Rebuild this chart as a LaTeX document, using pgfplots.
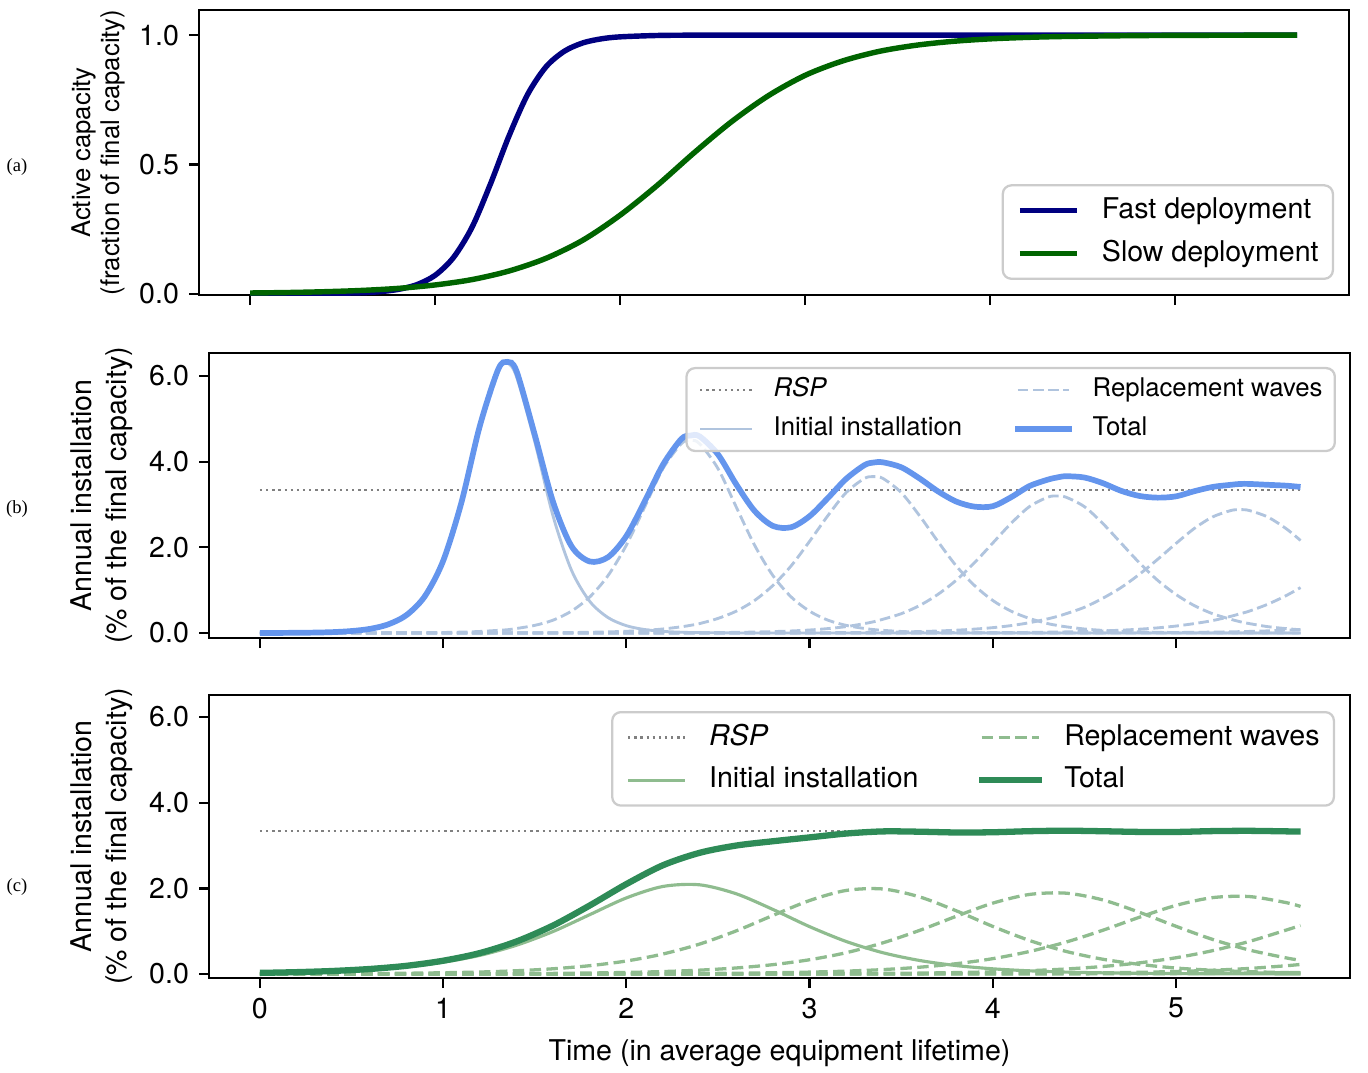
\documentclass[border=0pt]{standalone}
\usepackage{pgfplots}
\pgfplotsset{compat=1.18}
\usepackage{pgfplotstable}
\usepackage{fontspec}
\setmainfont{TeX Gyre Heros}
\newfontfamily\tagfont{Liberation Serif}

\definecolor{fastc}{HTML}{000080}
\definecolor{slowc}{HTML}{006400}
\definecolor{cfblue}{HTML}{6495ED}
\definecolor{lsblue}{HTML}{B0C4DE}
\definecolor{sgreen}{HTML}{2E8B57}
\definecolor{dsgreen}{HTML}{8FBC8F}
\definecolor{lgray}{HTML}{CCCCCC}
\definecolor{rspgray}{HTML}{808080}

\pgfplotstableread{
t I W1 W2 W3 W4 W5 W6 T
0.0 0.001 0 0 0 0 0 0 0.001
0.1 0.002 0 0 0 0 0 0 0.002
0.2 0.005 0 0 0 0 0 0 0.005
0.3 0.010 0 0 0 0 0 0 0.010
0.4 0.021 0 0 0 0 0 0 0.021
0.5 0.045 0.001 0 0 0 0 0 0.046
0.6 0.095 0.001 0 0 0 0 0 0.096
0.7 0.199 0.002 0 0 0 0 0 0.201
0.8 0.414 0.004 0 0 0 0 0 0.418
0.9 0.850 0.007 0 0 0 0 0 0.857
1.0 1.670 0.012 0.001 0 0 0 0 1.683
1.1 3.040 0.021 0.001 0 0 0 0 3.050
1.2 4.820 0.036 0.001 0 0 0 0 4.830
1.3 6.160 0.062 0.002 0 0 0 0 6.150
1.35 6.300 0.076 0.002 0 0 0 0 6.330
1.4 5.990 0.105 0.003 0 0 0 0 6.120
1.5 4.470 0.178 0.004 0 0 0 0 4.630
1.6 2.730 0.300 0.006 0.001 0 0 0 3.060
1.7 1.470 0.510 0.011 0.001 0 0 0 2.030
1.8 0.740 0.840 0.017 0.001 0 0 0 1.670
1.9 0.360 1.340 0.026 0.001 0 0 0 1.770
2.0 0.171 2.050 0.040 0.002 0 0 0 2.263
2.1 0.081 2.940 0.061 0.002 0 0 0 3.070
2.2 0.038 3.840 0.094 0.003 0.001 0 0 3.930
2.3 0.018 4.420 0.145 0.004 0.001 0 0 4.530
2.35 0.012 4.500 0.179 0.006 0.001 0 0 4.610
2.4 0.008 4.420 0.220 0.006 0.001 0 0 4.590
2.5 0.004 3.840 0.340 0.010 0.001 0 0 4.170
2.6 0.002 2.940 0.510 0.015 0.002 0 0 3.469
2.7 0.001 2.050 0.760 0.022 0.002 0 0 2.850
2.8 0 1.340 1.110 0.033 0.003 0 0 2.500
2.9 0 0.840 1.570 0.048 0.004 0 0 2.470
3.0 0 0.510 2.140 0.070 0.005 0.001 0 2.726
3.1 0 0.300 2.740 0.103 0.007 0.001 0 3.151
3.2 0 0.178 3.280 0.149 0.010 0.001 0 3.600
3.3 0 0.105 3.610 0.220 0.013 0.001 0 3.920
3.35 0 0.080 3.650 0.263 0.015 0.002 0 3.980
3.4 0 0.062 3.610 0.320 0.018 0.002 0 3.985
3.5 0 0.036 3.280 0.450 0.024 0.002 0 3.870
3.6 0 0.021 2.740 0.640 0.034 0.003 0 3.610
3.7 0 0.012 2.140 0.900 0.047 0.004 0 3.310
3.8 0 0.008 1.570 1.230 0.065 0.005 0.001 3.070
3.9 0 0.006 1.110 1.640 0.091 0.006 0.001 2.950
4.0 0 0.004 0.760 2.100 0.125 0.008 0.001 2.960
4.1 0 0.003 0.510 2.560 0.173 0.011 0.001 3.170
4.2 0 0.002 0.340 2.950 0.240 0.014 0.001 3.430
4.3 0 0.001 0.220 3.170 0.330 0.019 0.002 3.580
4.35 0 0.001 0.179 3.200 0.385 0.022 0.002 3.630
4.4 0 0.001 0.145 3.170 0.450 0.026 0.002 3.660
4.5 0 0.001 0.094 2.950 0.600 0.036 0.003 3.630
4.6 0 0 0.061 2.560 0.810 0.048 0.004 3.500
4.7 0 0 0.040 2.100 1.060 0.066 0.005 3.320
4.8 0 0 0.026 1.640 1.370 0.089 0.007 3.200
4.9 0 0 0.017 1.230 1.720 0.120 0.009 3.160
5.0 0 0 0.011 0.900 2.090 0.162 0.012 3.190
5.1 0 0 0.007 0.640 2.440 0.220 0.016 3.310
5.2 0 0 0.004 0.450 2.710 0.290 0.021 3.410
5.3 0 0 0.003 0.320 2.860 0.390 0.028 3.460
5.35 0 0 0.003 0.263 2.880 0.450 0.032 3.480
5.4 0 0 0.002 0.220 2.860 0.510 0.037 3.480
5.5 0 0 0.001 0.149 2.710 0.670 0.050 3.460
5.6 0 0 0.001 0.103 2.440 0.870 0.065 3.440
5.68 0 0 0.001 0.075 2.160 1.060 0.080 3.410
}\tabB

\pgfplotstableread{
t I W1 W2 W3 W4 W5 W6 T
0.0 0.024 0.003 0.000 0 0 0 0 0.027
0.2 0.039 0.004 0.001 0 0 0 0 0.044
0.4 0.064 0.007 0.001 0 0 0 0 0.072
0.6 0.105 0.011 0.002 0 0 0 0 0.118
0.8 0.171 0.019 0.002 0 0 0 0 0.192
1.0 0.276 0.030 0.004 0.001 0 0 0 0.311
1.2 0.435 0.047 0.006 0.001 0 0 0 0.489
1.4 0.672 0.077 0.010 0.001 0 0 0 0.760
1.6 0.993 0.123 0.015 0.002 0 0 0 1.133
1.8 1.386 0.195 0.024 0.003 0 0 0 1.600
2.0 1.777 0.304 0.037 0.005 0.001 0 0 2.100
2.2 2.045 0.468 0.058 0.008 0.002 0 0 2.540
2.4 2.083 0.700 0.091 0.012 0.002 0 0 2.830
2.6 1.873 1.008 0.142 0.019 0.003 0 0 3.000
2.8 1.508 1.368 0.219 0.029 0.004 0.001 0 3.100
3.0 1.107 1.716 0.334 0.045 0.006 0.001 0 3.190
3.2 0.760 1.952 0.498 0.068 0.010 0.002 0 3.280
3.4 0.498 1.986 0.728 0.104 0.015 0.002 0.001 3.330
3.6 0.317 1.802 1.018 0.159 0.022 0.004 0.001 3.323
3.8 0.198 1.478 1.347 0.241 0.034 0.006 0.001 3.305
4.0 0.122 1.112 1.655 0.359 0.052 0.008 0.002 3.310
4.2 0.075 0.784 1.858 0.526 0.078 0.012 0.002 3.335
4.4 0.045 0.528 1.888 0.746 0.118 0.018 0.003 3.346
4.6 0.028 0.346 1.731 1.021 0.176 0.027 0.005 3.334
4.8 0.017 0.226 1.442 1.325 0.261 0.040 0.007 3.318
5.0 0.010 0.140 1.115 1.602 0.380 0.060 0.010 3.317
5.2 0.006 0.089 0.808 1.784 0.546 0.089 0.015 3.337
5.4 0.004 0.055 0.561 1.809 0.761 0.131 0.022 3.343
5.6 0.002 0.034 0.378 1.669 1.024 0.193 0.031 3.331
5.68 0.002 0.029 0.321 1.578 1.134 0.224 0.038 3.326
}\tabC

\pgfplotsset{
  mplaxis/.style={
    scale only axis,
    axis line style={line width=0.8pt},
    every tick/.style={black, line width=0.8pt},
    tick align=outside,
    major tick length=3.5pt,
    tick pos=left,
    ticklabel style={font=\fontsize{10}{12}\selectfont},
    /pgf/number format/assume math mode=true,
    xtick={0,1,2,3,4,5},
    legend cell align=left,
  },
  legA/.style={
    legend style={font=\fontsize{10}{12}\selectfont, draw=lgray, line width=0.8pt,
      rounded corners=3pt, fill=white, fill opacity=0.8, draw opacity=1, text opacity=1,
      inner xsep=5pt, inner ysep=4pt, row sep=5.3pt,
      nodes={inner sep=0pt, text height=7.5pt, text depth=2.2pt},
      /tikz/every odd column/.append style={column sep=7.8pt},
      /tikz/every even column/.append style={column sep=21pt}},
    legend image code/.code={\draw[#1] (0pt,0pt) -- (20pt,0pt);},
  },
  legB/.style={
    legend style={font=\fontsize{9}{10.8}\selectfont, draw=lgray, line width=0.8pt,
      rounded corners=3pt, fill=white, fill opacity=0.8, draw opacity=1, text opacity=1,
      inner xsep=4.3pt, inner ysep=3.3pt, row sep=4.9pt,
      nodes={inner sep=0pt, text height=6.75pt, text depth=2pt},
      /tikz/every odd column/.append style={column sep=7.2pt},
      /tikz/every even column/.append style={column sep=18.5pt}},
    legend image code/.code={\draw[#1] (0pt,0pt) -- (18pt,0pt);},
  },
  rspB/.style={rspgray, line width=0.8pt, dash pattern=on 0.8pt off 1.35pt},
  initB/.style={lsblue, line width=1pt},
  waveB/.style={lsblue, line width=1pt, dash pattern=on 3.7pt off 1.6pt},
  totB/.style={cfblue, line width=2pt},
  initC/.style={dsgreen, line width=1.1pt},
  waveC/.style={dsgreen, line width=1.15pt, dash pattern=on 4pt off 1.9pt},
  totC/.style={sgreen, line width=2.2pt},
}

\begin{document}
\begin{tikzpicture}
\path[use as bounding box] (0pt,0pt) rectangle (478.8pt,-375.2pt);

% ---------------- (a)
\begin{axis}[mplaxis, legA,
  at={(69.65pt,-103.25pt)}, anchor=south west,
  width=402.5pt, height=99.75pt,
  xmin=-0.276, xmax=5.94, ymin=-0.005, ymax=1.097,
  xticklabels={,,,,,},
  ytick={0,0.5,1}, yticklabels={0.0,0.5,1.0},
  ylabel={Active capacity\\(fraction of final capacity)},
  ylabel style={font=\fontsize{9}{10.2}\selectfont, align=center,
    at={(axis description cs:-0.0878,0.5)}, anchor=center},
  legend style={at={(axis description cs:0.987,0.053)}, anchor=south east},
]
\addplot[fastc, line width=1.9pt, smooth] coordinates {
(0,0) (0.2,0.0001) (0.4,0.0008) (0.6,0.0037) (0.7,0.0078) (0.8,0.0166) (0.9,0.0346)
(1.0,0.0711) (1.1,0.1406) (1.2,0.2573) (1.3,0.4256) (1.4,0.6107) (1.5,0.7703)
(1.6,0.8776) (1.7,0.9382) (1.8,0.9701) (1.9,0.9857) (2.0,0.9932) (2.2,0.9985)
(2.4,0.9997) (2.8,1.0) (3.5,1.0) (4.5,1.0) (5.66,1.0)};
\addlegendentry{Fast deployment}
\addplot[slowc, line width=1.9pt, smooth] coordinates {
(0,0.0028) (0.2,0.0046) (0.4,0.0077) (0.6,0.0126) (0.8,0.0206) (1.0,0.0339)
(1.2,0.0547) (1.4,0.0879) (1.6,0.137) (1.8,0.2075) (2.0,0.3037) (2.2,0.4184)
(2.4,0.5449) (2.6,0.6637) (2.8,0.765) (3.0,0.8443) (3.2,0.8994) (3.4,0.937)
(3.6,0.9608) (3.8,0.9759) (4.0,0.9854) (4.2,0.9911) (4.4,0.9946) (4.8,0.998)
(5.2,0.9993) (5.66,0.9998)};
\addlegendentry{Slow deployment}
\end{axis}

% ---------------- (b)
\begin{axis}[mplaxis, legB,
  at={(73.15pt,-223.3pt)}, anchor=south west,
  width=399.35pt, height=99.75pt,
  xmin=-0.278, xmax=5.95, ymin=-0.117, ymax=6.537,
  xticklabels={,,,,,},
  ytick={0,2,4,6}, yticklabels={0.0,2.0,4.0,6.0},
  ylabel={Annual installation\\(\% of the final capacity)},
  ylabel style={font=\fontsize{10}{12.2}\selectfont, align=center,
    at={(axis description cs:-0.0942,0.5)}, anchor=center},
  legend columns=2,
  legend style={at={(axis description cs:0.9877,0.951)}, anchor=north east},
]
\addplot[rspB, forget plot] coordinates {(0,3.333) (5.68,3.333)};
\addplot[initB, smooth, forget plot] table[x=t,y=I]{\tabB};
\addplot[waveB, smooth, forget plot] table[x=t,y=W1]{\tabB};
\addplot[waveB, smooth, forget plot] table[x=t,y=W2]{\tabB};
\addplot[waveB, smooth, forget plot] table[x=t,y=W3]{\tabB};
\addplot[waveB, smooth, forget plot] table[x=t,y=W4]{\tabB};
\addplot[waveB, smooth, forget plot] table[x=t,y=W5]{\tabB};
\addplot[waveB, smooth, forget plot] table[x=t,y=W6]{\tabB};
\addplot[totB, smooth, forget plot] table[x=t,y=T]{\tabB};
\addlegendimage{rspB}\addlegendentry{\textit{RSP}}
\addlegendimage{waveB}\addlegendentry{Replacement waves}
\addlegendimage{initB}\addlegendentry{Initial installation}
\addlegendimage{totB, line cap=rect}\addlegendentry{Total}
\end{axis}

% ---------------- (c)
\begin{axis}[mplaxis, legA,
  at={(73.15pt,-342.3pt)}, anchor=south west,
  width=399.35pt, height=99.05pt,
  xmin=-0.278, xmax=5.95, ymin=-0.093, ymax=6.514,
  xticklabels={0,1,2,3,4,5},
  ytick={0,2,4,6}, yticklabels={0.0,2.0,4.0,6.0},
  xlabel={Time (in average equipment lifetime)},
  xlabel style={font=\fontsize{10}{12}\selectfont,
    at={(axis description cs:0.5,-0.29)}, anchor=base},
  ylabel={Annual installation\\(\% of the final capacity)},
  ylabel style={font=\fontsize{10}{12.2}\selectfont, align=center,
    at={(axis description cs:-0.0942,0.5)}, anchor=center},
  legend columns=2,
  legend style={at={(axis description cs:0.9869,0.9435)}, anchor=north east},
]
\addplot[rspB, forget plot] coordinates {(0,3.333) (5.68,3.333)};
\addplot[initC, smooth, forget plot] table[x=t,y=I]{\tabC};
\addplot[waveC, smooth, forget plot] table[x=t,y=W1]{\tabC};
\addplot[waveC, smooth, forget plot] table[x=t,y=W2]{\tabC};
\addplot[waveC, smooth, forget plot] table[x=t,y=W3]{\tabC};
\addplot[waveC, smooth, forget plot] table[x=t,y=W4]{\tabC};
\addplot[waveC, smooth, forget plot] table[x=t,y=W5]{\tabC};
\addplot[waveC, smooth, forget plot] table[x=t,y=W6]{\tabC};
\addplot[totC, smooth, forget plot] table[x=t,y=T]{\tabC};
\addlegendimage{rspB}\addlegendentry{\textit{RSP}}
\addlegendimage{waveC}\addlegendentry{Replacement waves}
\addlegendimage{initC}\addlegendentry{Initial installation}
\addlegendimage{totC, line cap=rect}\addlegendentry{Total}
\end{axis}

\node[font=\tagfont\fontsize{6.5}{7.5}\selectfont] at (5.95pt,-58.45pt) {(a)};
\node[font=\tagfont\fontsize{6.5}{7.5}\selectfont] at (5.95pt,-178.15pt) {(b)};
\node[font=\tagfont\fontsize{6.5}{7.5}\selectfont] at (5.95pt,-310.45pt) {(c)};
\end{tikzpicture}
\end{document}
